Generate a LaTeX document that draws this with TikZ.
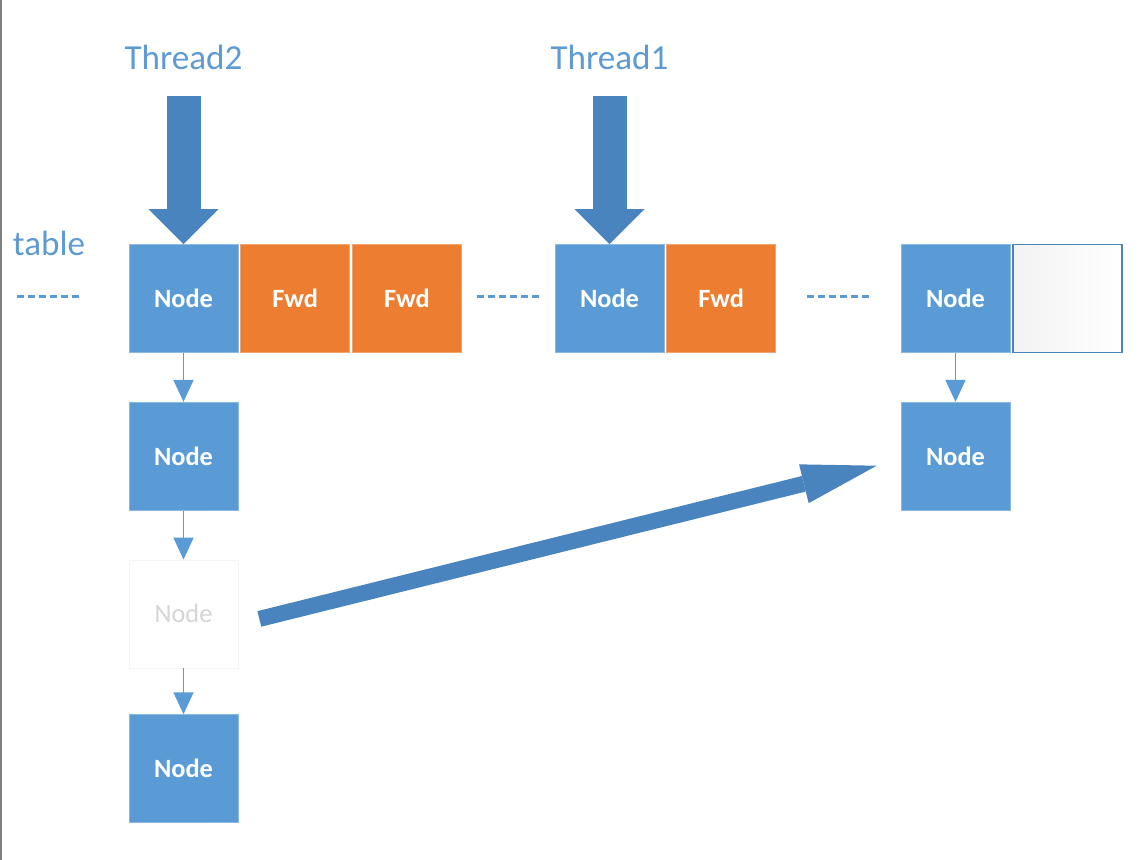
\documentclass[tikz,border=0pt]{standalone}
\usepackage{fontspec}
\setmainfont{Carlito}
\usepackage{tikz}
\newcommand{\cellwidth}{2.18cm}
\newcommand{\cellheight}{2.16cm}
\usetikzlibrary{arrows.meta,positioning}
\definecolor{cellblue}{HTML}{5B9BD5}
\definecolor{fwdorange}{HTML}{ED7D31}
\definecolor{arrowblue}{HTML}{4A84BF}
\definecolor{labelblue}{HTML}{5E9BD3}
\definecolor{ghostgray}{HTML}{D5D5D5}
\tikzset{
  node distance=0.04cm,
  cell/.style={draw=cellblue!70!white,line width=0.4pt,fill=cellblue,text=white,shape=rectangle,minimum width=\cellwidth,minimum height=\cellheight,inner sep=0,font=\fontsize{15}{18}\selectfont\bfseries},
  fwd/.style={cell,draw=fwdorange!70!white,fill=fwdorange},
  ghost/.style={cell,draw=gray!8,fill=white,text=ghostgray,font=\fontsize{15}{18}\selectfont},
  slot/.style={cell,draw=arrowblue,line width=0.8pt,left color=gray!10,right color=white},
  tag/.style={text=labelblue,font=\fontsize{20}{24}\selectfont,inner sep=0},
  link/.style={draw=cellblue,line width=1.1pt,-{Triangle[width=4mm,length=4.4mm]}},
  fatarrow/.style={draw=arrowblue,line width=0.68cm,-{Triangle[width=1.4cm,length=0.7cm,line width=0pt]}},
  longarrow/.style={draw=arrowblue,line width=0.32cm,-{Triangle[width=0.8cm,length=1.5cm,line width=0pt]}},
  gap/.style={draw=cellblue,line width=0.06cm,dash pattern=on 0.14cm off 0.08cm}
}
\begin{document}
\begin{tikzpicture}
  \useasboundingbox (0,0) rectangle (22.82,-17.2);
  \draw [gray,line width=0.04cm] (0.02,0) -- (0.02,-17.2);

  \node (nodeA) [cell] at (3.67,-5.97) {Node};
  \node (fwdA1) [fwd,right=of nodeA] {Fwd};
  \node (fwdA2) [fwd,right=of fwdA1] {Fwd};
  \node (nodeB) [cell] at (12.19,-5.97) {Node};
  \node (fwdB1) [fwd,right=of nodeB] {Fwd};
  \node (nodeC) [cell] at (19.11,-5.97) {Node};
  \node (slotC) [slot,right=of nodeC] {};

  \node (nodeA2) [cell,below=0.98cm of nodeA] {Node};
  \node (nodeA3) [ghost,below=0.98cm of nodeA2] {Node};
  \node (nodeA4) [cell,below=0.92cm of nodeA3] {Node};
  \node (nodeC2) [cell,below=0.98cm of nodeC] {Node};

  \node (threadA) [tag] at (3.67,-1.14) {Thread2};
  \node (threadB) [tag] at (12.19,-1.14) {Thread1};
  \node (table) [tag] at (0.98,-4.86) {table};

  \draw [fatarrow] ([yshift=-0.52cm]threadA.south) -- (nodeA.north);
  \draw [fatarrow] ([yshift=-0.52cm]threadB.south) -- (nodeB.north);

  \draw [link] (nodeA) -- (nodeA2);
  \draw [link] (nodeA2) -- (nodeA3);
  \draw [link] (nodeA3) -- (nodeA4);
  \draw [link] (nodeC) -- (nodeC2);

  \draw [longarrow] ([shift={(0.42,-0.1)}]nodeA3.east) -- ([shift={(-0.48,-0.19)}]nodeC2.west);

  \draw [gap] ([shift={(-2.24,0.05)}]nodeA.west) -- ([shift={(-0.94,0.05)}]nodeA.west);
  \draw [gap] ([shift={(0.3,0.05)}]fwdA2.east) -- ([shift={(-0.28,0.05)}]nodeB.west);
  \draw [gap] ([shift={(0.62,0.05)}]fwdB1.east) -- ([shift={(-0.62,0.05)}]nodeC.west);
\end{tikzpicture}
\end{document}
